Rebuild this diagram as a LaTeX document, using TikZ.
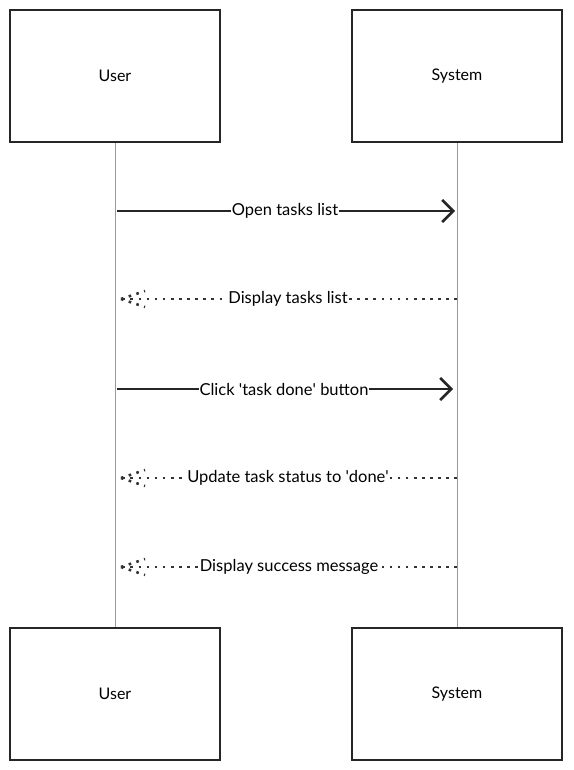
\documentclass[tikz,border=0pt]{standalone}
\usepackage{fontspec}
\setmainfont{Lato}
\usetikzlibrary{arrows.meta}
\begin{document}
\begin{tikzpicture}[x=1pt,y=-1pt,
  actor/.style={draw=black!85,line width=2.6pt,fill=white,minimum width=210pt,minimum height=132pt,inner sep=0pt,font=\fontsize{16}{18}\selectfont},
  life/.style={draw=black!40,line width=1pt},
  msg/.style={draw=black!85,line width=2.8pt,-{Straight Barb[length=11pt,width=22pt,line width=2.6pt]}},
  ret/.style={draw=black!80,line width=2.6pt,dash pattern=on 2.6pt off 5.5pt},
  lbl/.style={fill=white,inner sep=1pt,font=\fontsize{16.5}{18}\selectfont}]
\useasboundingbox (0,0) rectangle (573,770);
\node[actor] (u1) at (115,76) {User};
\node[actor] (s1) at (457,76) {System};
\node[actor] (u2) at (115,694) {User};
\node[actor] (s2) at (457,694) {System};
\draw[life] (u1.south) -- (u2.north);
\draw[life] (s1.south) -- (s2.north);
% message 1
\coordinate (a1) at (117,211); \coordinate (b1) at (455,211);
\draw[msg] (a1) -- (b1);
\node[lbl] (l1) at (285,211) {Open tasks list};
% message 2
\coordinate (a2) at (457,299); \coordinate (b2) at (121,299);
\draw[ret] (a2) -- (b2);
\draw[ret] (b2) -- ++(24,-8);
\draw[ret] (b2) -- ++(24,8);
\node[lbl] (l2) at (288,299) {Display tasks list};
% message 3
\coordinate (a3) at (117,389); \coordinate (b3) at (453,389);
\draw[msg] (a3) -- (b3);
\node[lbl] (l3) at (284,389) {Click \textquotesingle task done\textquotesingle{} button};
% message 4
\coordinate (a4) at (457,478); \coordinate (b4) at (121,478);
\draw[ret] (a4) -- (b4);
\draw[ret] (b4) -- ++(24,-8);
\draw[ret] (b4) -- ++(24,8);
\node[lbl] (l4) at (288,478) {Update task status to \textquotesingle done\textquotesingle};
% message 5
\coordinate (a5) at (457,567); \coordinate (b5) at (121,567);
\draw[ret] (a5) -- (b5);
\draw[ret] (b5) -- ++(24,-8);
\draw[ret] (b5) -- ++(24,8);
\node[lbl] (l5) at (289,567) {Display success message};
\end{tikzpicture}
\end{document}
